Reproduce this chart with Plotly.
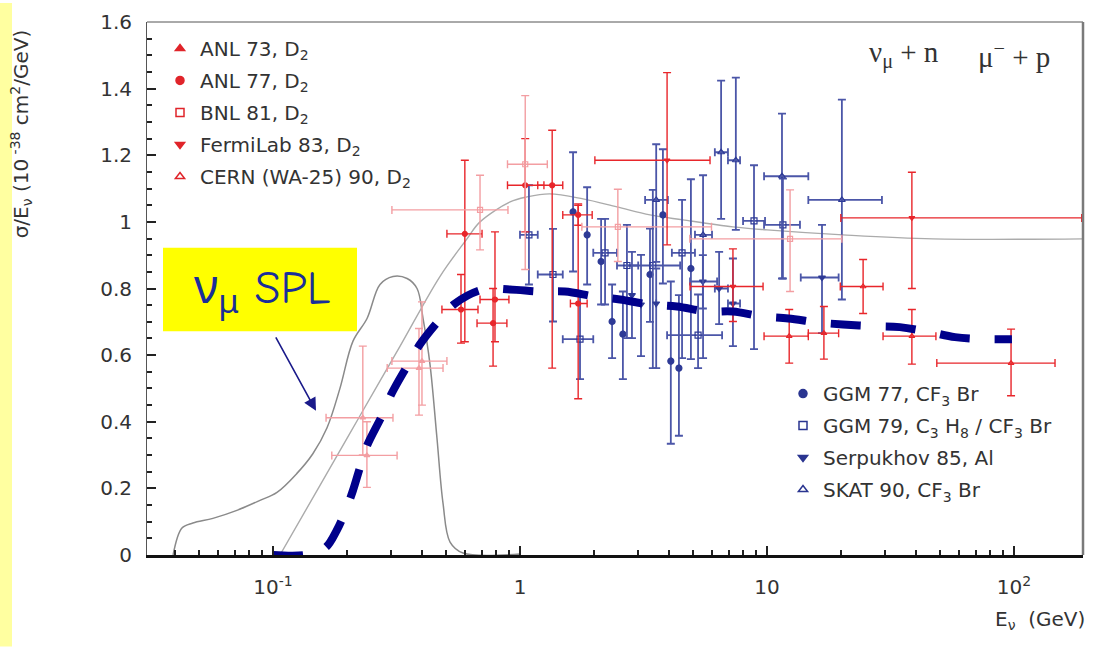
import plotly.graph_objects as go

# ---------------- data ----------------
# rows: (E [GeV], sigma/E, upper end of y-bar, lower end of y-bar, lower end of x-bar, upper end of x-bar)
anl73 = [(0.231, 0.412, 0.627, 0.30, 0.164, 0.306),
         (0.240, 0.299, 0.40, 0.203, 0.173, 0.318),
         (0.401, 0.582, 0.76, 0.45, 0.303, 0.506),
         (0.390, 0.561, 0.68, 0.42, 0.290, 0.488)]
anl77 = [(0.577, 0.737, 0.842, 0.636, 0.483, 0.676),
         (0.792, 0.767, 0.970, 0.640, 0.689, 0.902),
         (0.778, 0.696, 0.800, 0.567, 0.670, 0.885),
         (0.598, 0.964, 1.185, 0.640, 0.506, 0.702),
         (1.05, 1.110, 1.250, 0.970, 0.89, 1.25),
         (1.35, 1.110, 1.275, 0.561, 1.18, 1.49),
         (1.72, 1.021, 1.050, 0.990, 1.49, 1.96),
         (1.72, 0.755, 1.054, 0.469, 1.60, 1.87)]
bnl81 = [(0.689, 1.036, 1.140, 0.916, 0.303, 0.894),
         (1.05, 1.173, 1.379, 0.857, 0.89, 1.29),
         (2.49, 0.985, 1.098, 0.881, 1.78, 5.96),
         (12.4, 0.949, 1.096, 0.791, 4.87, 20.1)]
fnal83 = [(3.94, 1.185, 1.448, 0.931, 2.01, 5.88),
          (7.28, 0.806, 0.919, 0.701, 4.88, 9.64),
          (38.6, 1.012, 1.149, 0.800, 19.9, 188.0)]
cern90 = [(12.3, 0.657, 0.737, 0.576, 9.73, 14.7),
          (17.0, 0.666, 0.746, 0.588, 14.7, 19.5),
          (24.5, 0.806, 0.887, 0.725, 19.8, 29.5),
          (38.6, 0.657, 0.737, 0.573, 29.5, 48.3),
          (97.3, 0.576, 0.678, 0.478, 48.7, 146.6)]

ggm77 = [(1.64, 1.030, 1.209, 0.851, 1.64, 1.64),
         (1.87, 0.961, 1.104, 0.812, 1.87, 1.87),
         (2.13, 0.881, 1.009, 0.752, 2.13, 2.13),
         (2.36, 0.701, 0.812, 0.591, 2.36, 2.36),
         (2.61, 0.663, 0.791, 0.528, 2.61, 2.61),
         (3.36, 0.842, 0.980, 0.700, 3.36, 3.36),
         (3.79, 1.021, 1.218, 0.815, 3.79, 3.79),
         (4.08, 0.582, 0.821, 0.334, 4.08, 4.08),
         (4.40, 0.561, 0.780, 0.358, 4.40, 4.40),
         (4.92, 0.860, 1.128, 0.588, 4.92, 4.92)]
ggm79 = [(1.087, 0.961, 1.110, 0.812, 1.00, 1.18),
         (1.36, 0.842, 0.979, 0.701, 1.18, 1.49),
         (1.75, 0.648, 0.782, 0.528, 1.49, 1.98),
         (2.21, 0.907, 1.009, 0.752, 1.98, 2.47),
         (2.71, 0.869, 0.991, 0.651, 2.47, 3.01),
         (3.45, 0.869, 1.096, 0.561, 2.71, 4.45),
         (4.53, 0.907, 1.066, 0.591, 4.12, 5.11),
         (5.26, 0.660, 0.782, 0.561, 3.94, 6.58),
         (8.86, 1.003, 1.170, 0.618, 8.00, 9.82),
         (11.6, 0.991, 1.130, 0.830, 9.73, 13.6)]
serp85 = [(2.84, 0.780, 0.910, 0.651, 2.84, 2.84),
          (3.09, 0.752, 0.901, 0.597, 3.09, 3.09),
          (3.56, 0.755, 0.860, 0.561, 3.56, 3.56),
          (5.50, 0.821, 0.900, 0.740, 4.88, 6.28),
          (6.40, 0.800, 0.910, 0.693, 6.15, 6.95),
          (7.28, 0.755, 0.890, 0.627, 6.95, 7.78),
          (16.7, 0.833, 0.991, 0.666, 13.7, 19.5)]
skat90 = [(3.56, 1.066, 1.233, 0.880, 3.21, 3.97),
          (5.51, 0.961, 1.140, 0.591, 5.11, 5.99),
          (6.52, 1.209, 1.424, 1.009, 6.15, 6.95),
          (7.48, 1.185, 1.433, 0.976, 6.95, 7.78),
          (11.5, 1.137, 1.325, 0.830, 9.73, 14.7),
          (20.1, 1.066, 1.367, 0.767, 14.7, 29.2)]

# curves
flux_E = [0.0394, 0.0428, 0.0474, 0.0571, 0.0714, 0.0886, 0.1038, 0.125, 0.145, 0.1655,
          0.1868, 0.2108, 0.2403, 0.2712, 0.306, 0.349, 0.383, 0.405, 0.432, 0.461,
          0.488, 0.521, 0.588, 1.0]
flux_v = [0.0, 0.081, 0.096, 0.110, 0.134, 0.164, 0.188, 0.245, 0.304, 0.382,
          0.501, 0.642, 0.710, 0.812, 0.836, 0.830, 0.800, 0.710, 0.573, 0.352,
          0.155, 0.039, 0.006, 0.003]
theo_E = [0.1067, 0.155, 0.225, 0.327, 0.474, 0.610, 0.689, 0.912, 1.067, 1.32, 1.80,
          2.47, 3.36, 4.57, 7.28, 10.0, 20.3, 47.0, 190.0]
theo_v = [0.0, 0.209, 0.418, 0.627, 0.836, 0.949, 1.0, 1.06, 1.075, 1.084, 1.069,
          1.045, 1.021, 1.006, 0.985, 0.976, 0.961, 0.949, 0.949]
spl_E = [0.1, 0.1349, 0.1625, 0.1815, 0.1955, 0.2108, 0.2250, 0.2403, 0.2762, 0.3033,
         0.349, 0.394, 0.4656, 0.546, 0.708, 0.911, 1.205, 1.52, 2.01, 2.54, 3.36,
         4.32, 5.72, 7.28, 9.55, 12.2, 16.1, 20.3, 26.9, 34.5, 45.7, 57.7, 76.3, 98.1]
spl_v = [0.0, 0.0, 0.021, 0.075, 0.128, 0.194, 0.263, 0.328, 0.418, 0.487,
         0.567, 0.633, 0.701, 0.755, 0.797, 0.797, 0.791, 0.791, 0.776, 0.767, 0.752,
         0.746, 0.731, 0.731, 0.716, 0.710, 0.698, 0.692, 0.687, 0.684, 0.669, 0.654, 0.648, 0.648]

x_ticks = [0.1, 1, 10, 100]
x_ticktext = ["10<sup>-1</sup>", "1", "10", "10<sup>2</sup>"]
x_minor = [m * d for d in (0.01, 0.1, 1, 10) for m in range(2, 10) if 0.031 < m * d < 190]
y_ticks = [0, 0.2, 0.4, 0.6, 0.8, 1.0, 1.2, 1.4, 1.6]
y_ticktext = ["0", "0.2", "0.4", "0.6", "0.8", "1", "1.2", "1.4", "1.6"]

# ---------------- figure ----------------
FONT = "DejaVu Sans"
RED = "#e8262b"
PALE = "#f39ea2"
BLUE = "#2e3a96"
BLUEBAR = "#4b56a8"

fig = go.Figure()

fig.add_trace(go.Scatter(x=flux_E, y=flux_v, mode="lines", line=dict(color="#8a8a8a", width=1.5),
                         line_shape="spline", showlegend=False, hoverinfo="skip"))
fig.add_trace(go.Scatter(x=theo_E, y=theo_v, mode="lines", line=dict(color="#ababab", width=1.4),
                         line_shape="spline", showlegend=False, hoverinfo="skip"))


def data_trace(rows, symbol, mcolor, barcolor, size, thick):
    E = [r[0] for r in rows]
    s = [r[1] for r in rows]
    return go.Scatter(
        x=E, y=s, mode="markers", showlegend=False,
        marker=dict(symbol=symbol, size=size, color=mcolor, line=dict(color=mcolor, width=1.2)),
        error_y=dict(type="data", symmetric=False,
                     array=[r[2] - r[1] for r in rows], arrayminus=[r[1] - r[3] for r in rows],
                     color=barcolor, thickness=thick, width=4),
        error_x=dict(type="data", symmetric=False,
                     array=[r[5] - r[0] for r in rows], arrayminus=[r[0] - r[4] for r in rows],
                     color=barcolor, thickness=thick, width=4),
    )


red_series = [
    (anl73, "ANL 73, D<sub>2</sub>", "triangle-up", PALE),
    (anl77, "ANL 77, D<sub>2</sub>", "circle", RED),
    (bnl81, "BNL 81, D<sub>2</sub>", "square-open", PALE),
    (fnal83, "FermiLab 83, D<sub>2</sub>", "triangle-down", RED),
    (cern90, "CERN (WA-25) 90, D<sub>2</sub>", "triangle-up-open", RED),
]
blue_series = [
    (ggm77, "GGM 77, CF<sub>3</sub> Br", "circle"),
    (ggm79, "GGM 79, C<sub>3</sub> H<sub>8</sub> / CF<sub>3</sub> Br", "square-open"),
    (serp85, "Serpukhov 85, Al", "triangle-down"),
    (skat90, "SKAT 90, CF<sub>3</sub> Br", "triangle-up-open"),
]

for rows, name, sym in blue_series:
    fig.add_trace(data_trace(rows, sym, BLUE, BLUEBAR, 6, 1.8))
for rows, name, sym, col in red_series:
    fig.add_trace(data_trace(rows, sym, col, col, 5, 1.4))

# legend entries
for i, (rows, name, sym, col) in enumerate(red_series):
    fig.add_trace(go.Scatter(x=[None], y=[None], mode="markers", name=name, legend="legend",
                             legendgroup=f"r{i}",
                             marker=dict(symbol=sym, size=8, color="#e0242a",
                                         line=dict(color="#e0242a", width=1.5))))
for i, (rows, name, sym) in enumerate(blue_series):
    fig.add_trace(go.Scatter(x=[None], y=[None], mode="markers", name=name, legend="legend2",
                             legendgroup=f"b{i}",
                             marker=dict(symbol=sym, size=8, color="#2a3590",
                                         line=dict(color="#2a3590", width=1.5))))

# nu_mu SPL dashed curve
fig.add_trace(go.Scatter(x=spl_E, y=spl_v, mode="lines", line_shape="spline",
                         line=dict(color="#00008b", width=8, dash="30px,25px"),
                         showlegend=False, hoverinfo="skip"))

W, H = 1093, 647
L, R, T, B = 147, 10, 19, 92
PW, PH = W - L - R, H - T - B


def px(x):
    return (x - L) / PW


def py(y):
    return (H - B - y) / PH


shapes = [
    dict(type="rect", xref="paper", yref="paper", x0=px(0), x1=px(12), y0=py(H), y1=py(0),
         fillcolor="#ffffa0", line=dict(width=0), layer="below"),
    dict(type="line", xref="paper", yref="paper", x0=0, x1=1, y0=1, y1=1,
         line=dict(color="#555555", width=1)),
    dict(type="line", xref="paper", yref="paper", x0=1, x1=1, y0=0, y1=1,
         line=dict(color="#7a7a7a", width=2.5)),
    dict(type="rect", xref="paper", yref="paper", x0=px(163), x1=px(357), y0=py(330), y1=py(246),
         fillcolor="#ffff00", line=dict(width=0), layer="above"),
]

annotations = [
    dict(xref="paper", yref="paper", x=px(262), y=py(290), xanchor="center", yanchor="middle",
         text="ν<sub>μ</sub> SPL", showarrow=False,
         font=dict(family="Comic Sans MS, Comic Neue, Noto Sans", size=47, color="#1a2e9a")),
    dict(xref="paper", yref="paper", x=px(316), y=py(410), ax=-41, ay=-75, text="",
         showarrow=True, arrowhead=2, arrowsize=1.6, arrowwidth=1.6, arrowcolor="#1a1a8a"),
    dict(xref="paper", yref="paper", x=px(941), y=py(52), xanchor="right", yanchor="middle",
         text="ν<sub>μ</sub> + n", showarrow=False,
         font=dict(family="Liberation Serif", size=29, color="#333333")),
    dict(xref="paper", yref="paper", x=px(976), y=py(52), xanchor="left", yanchor="middle",
         text="μ<sup>−</sup> + p", showarrow=False,
         font=dict(family="Liberation Serif", size=29, color="#333333")),
    dict(xref="paper", yref="paper", x=px(21), y=py(132), xanchor="center", yanchor="middle",
         textangle=-90, text="σ/E<sub>ν</sub> (10<sup> -38</sup> cm<sup>2</sup>/GeV)", showarrow=False,
         font=dict(family=FONT, size=20, color="#333333")),
    dict(xref="paper", yref="paper", x=px(1087), y=py(620), xanchor="right", yanchor="middle",
         text="E<sub>ν</sub>  (GeV)", showarrow=False,
         font=dict(family=FONT, size=20, color="#333333")),
]

fig.update_layout(
    width=W, height=H, margin=dict(l=L, r=R, t=T, b=B),
    paper_bgcolor="white", plot_bgcolor="white",
    shapes=shapes, annotations=annotations,
    legend=dict(x=px(160), y=py(26), xanchor="left", yanchor="top", bgcolor="rgba(0,0,0,0)",
                font=dict(family=FONT, size=20, color="#333333"), tracegroupgap=3),
    legend2=dict(x=px(783), y=py(373), xanchor="left", yanchor="top", bgcolor="rgba(0,0,0,0)",
                 font=dict(family=FONT, size=20, color="#333333"), tracegroupgap=3),
    xaxis=dict(type="log", range=[-1.5101, 2.2794], tickmode="array", tickvals=x_ticks,
               ticktext=x_ticktext, ticks="inside", ticklen=9, tickwidth=2, tickcolor="#222222",
               showline=True, linecolor="#111111", linewidth=3, showgrid=False, zeroline=False,
               tickfont=dict(family=FONT, size=20, color="#333333"), ticklabelstandoff=12,
               minor=dict(tickmode="array", tickvals=x_minor, ticks="inside", ticklen=5,
                          tickwidth=1.5, tickcolor="#222222", showgrid=False)),
    yaxis=dict(range=[0, 1.6], tickmode="array", tickvals=y_ticks, ticktext=y_ticktext,
               ticks="inside", ticklen=9, tickwidth=2, tickcolor="#222222",
               showline=True, linecolor="#555555", linewidth=1, showgrid=False, zeroline=False,
               tickfont=dict(family=FONT, size=20, color="#333333"), ticklabelstandoff=10,
               minor=dict(dtick=0.05, ticks="inside", ticklen=5, tickwidth=1.5,
                          tickcolor="#222222", showgrid=False)),
)

fig.write_html("out.html")
